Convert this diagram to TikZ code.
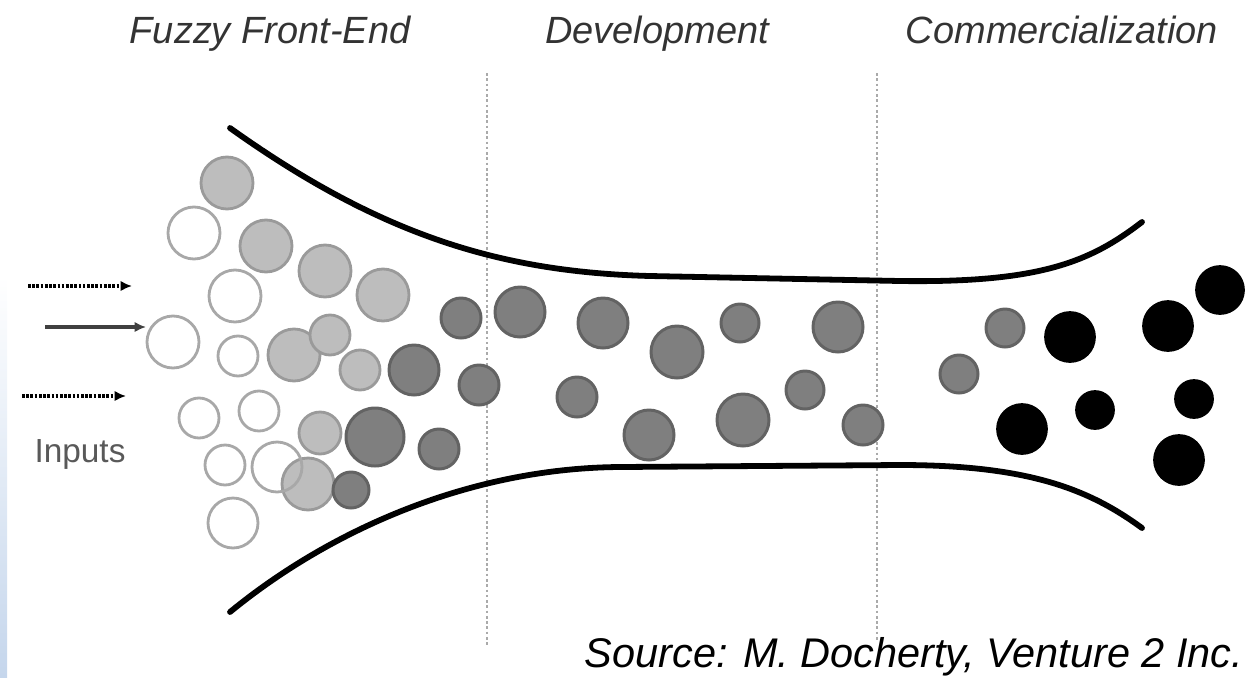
\documentclass[tikz,border=0pt]{standalone}
\usepackage{fontspec}
\setmainfont{Liberation Sans}
\usetikzlibrary{arrows.meta}
\definecolor{lightfill}{HTML}{BDBDBD}
\definecolor{lightedge}{HTML}{9A9A9A}
\definecolor{openedge}{HTML}{A8A8A8}
\definecolor{darkfill}{HTML}{7F7F7F}
\definecolor{darkedge}{HTML}{636363}
\definecolor{textgray}{HTML}{333333}
\definecolor{stripblue}{HTML}{C5D6EC}
\definecolor{vlinegray}{HTML}{AAAAAA}
\tikzset{
  lightball/.style={fill=lightfill, draw=lightedge, line width=1.6pt},
  openball/.style={draw=openedge, line width=1.6pt},
  darkball/.style={fill=darkfill, draw=darkedge, line width=1.7pt},
  blackball/.style={fill=black, draw=black, line width=1pt},
  funnel/.style={line width=3.3pt, line cap=round},
  divider/.style={draw=vlinegray, line width=0.8pt, dash pattern=on 1.5pt off 1.5pt},
  title/.style={anchor=base, text=textgray, font=\fontsize{21.6pt}{24pt}\selectfont\itshape, inner sep=0pt},
  inarrow/.style={line width=2pt, -{Latex[length=6.5pt,width=6pt]}},
}
\begin{document}
\begin{tikzpicture}[x=0.02cm, y=-0.02cm]
\useasboundingbox (0,0) rectangle (1247,677);
% left blue strip
\shade[top color=white, bottom color=stripblue] (0,276) rectangle (7,677);
% dividers
\coordinate (d1t) at (487,73); \coordinate (d1b) at (487,645);
\coordinate (d2t) at (877,73); \coordinate (d2b) at (877,640);
\draw[divider] (d1t) -- (d1b);
\draw[divider] (d2t) -- (d2b);
% titles
\node[title] (t1) at (270,43) {Fuzzy Front-End};
\node[title] (t2) at (657,43) {Development};
\node[title] (t3) at (1062,43) {Commercialization};
% funnel
\draw[funnel] (230,128) .. controls (380,235) and (500,272) .. (650,276) -- (900,281) .. controls (1040,283) and (1090,262) .. (1142,222);
\draw[funnel] (230,612) .. controls (330,530) and (470,468) .. (620,467) -- (900,465) .. controls (1030,465) and (1090,490) .. (1142,528);
% input arrows
\coordinate (a1s) at (28,286); \coordinate (a1e) at (132,286);
\coordinate (a2s) at (45,327); \coordinate (a2e) at (146,327);
\coordinate (a3s) at (22,396); \coordinate (a3e) at (126,396);
\draw[inarrow, dash pattern=on 1.5pt off 0.9pt] (a1s) -- (a1e);
\draw[inarrow, draw=black!75, fill=black] (a2s) -- (a2e);
\draw[inarrow, dash pattern=on 1.5pt off 0.9pt] (a3s) -- (a3e);
\node[anchor=base, text=black!65, font=\fontsize{19pt}{22pt}\selectfont, inner sep=0pt] (inp) at (80,462) {Inputs};
% light circles
\foreach \x/\y/\r in {227/183/26, 266/246/26, 325/271/26, 383/295/26, 294/355/26, 330/335/20, 360/370/20, 320/433/21, 308/484/26}
  \draw[lightball] (\x,\y) circle (\r);
% open circles
\foreach \x/\y/\r in {194/233/26, 235/296/26, 173/342/26, 238/356/20, 199/418/20, 259/411/20, 225/465/20, 277/467/25, 233/523/25}
  \draw[openball] (\x,\y) circle (\r);
% dark gray circles
\foreach \x/\y/\r in {461/318/20, 414/370/25, 479/385/20, 375/437/29, 439/449/20, 351/490/18,
  520/312/25, 603/323/25, 677/352/26, 740/323/19, 838/327/25, 577/397/20, 649/435/25, 743/420/26, 805/390/19, 863/425/20,
  1005/328/19, 959/374/19}
  \draw[darkball] (\x,\y) circle (\r);
% black circles
\foreach \x/\y/\r in {1070/337/25, 1168/326/25, 1220/290/24, 1022/429/25, 1095/410/19, 1194/399/19, 1179/460/25}
  \draw[blackball] (\x,\y) circle (\r);
% source
\node[anchor=base, text=black, font=\fontsize{23.6pt}{26pt}\selectfont\itshape, inner sep=0pt] (src) at (914,667) {Source: M. Docherty, Venture 2 Inc.};
\end{tikzpicture}
\end{document}
